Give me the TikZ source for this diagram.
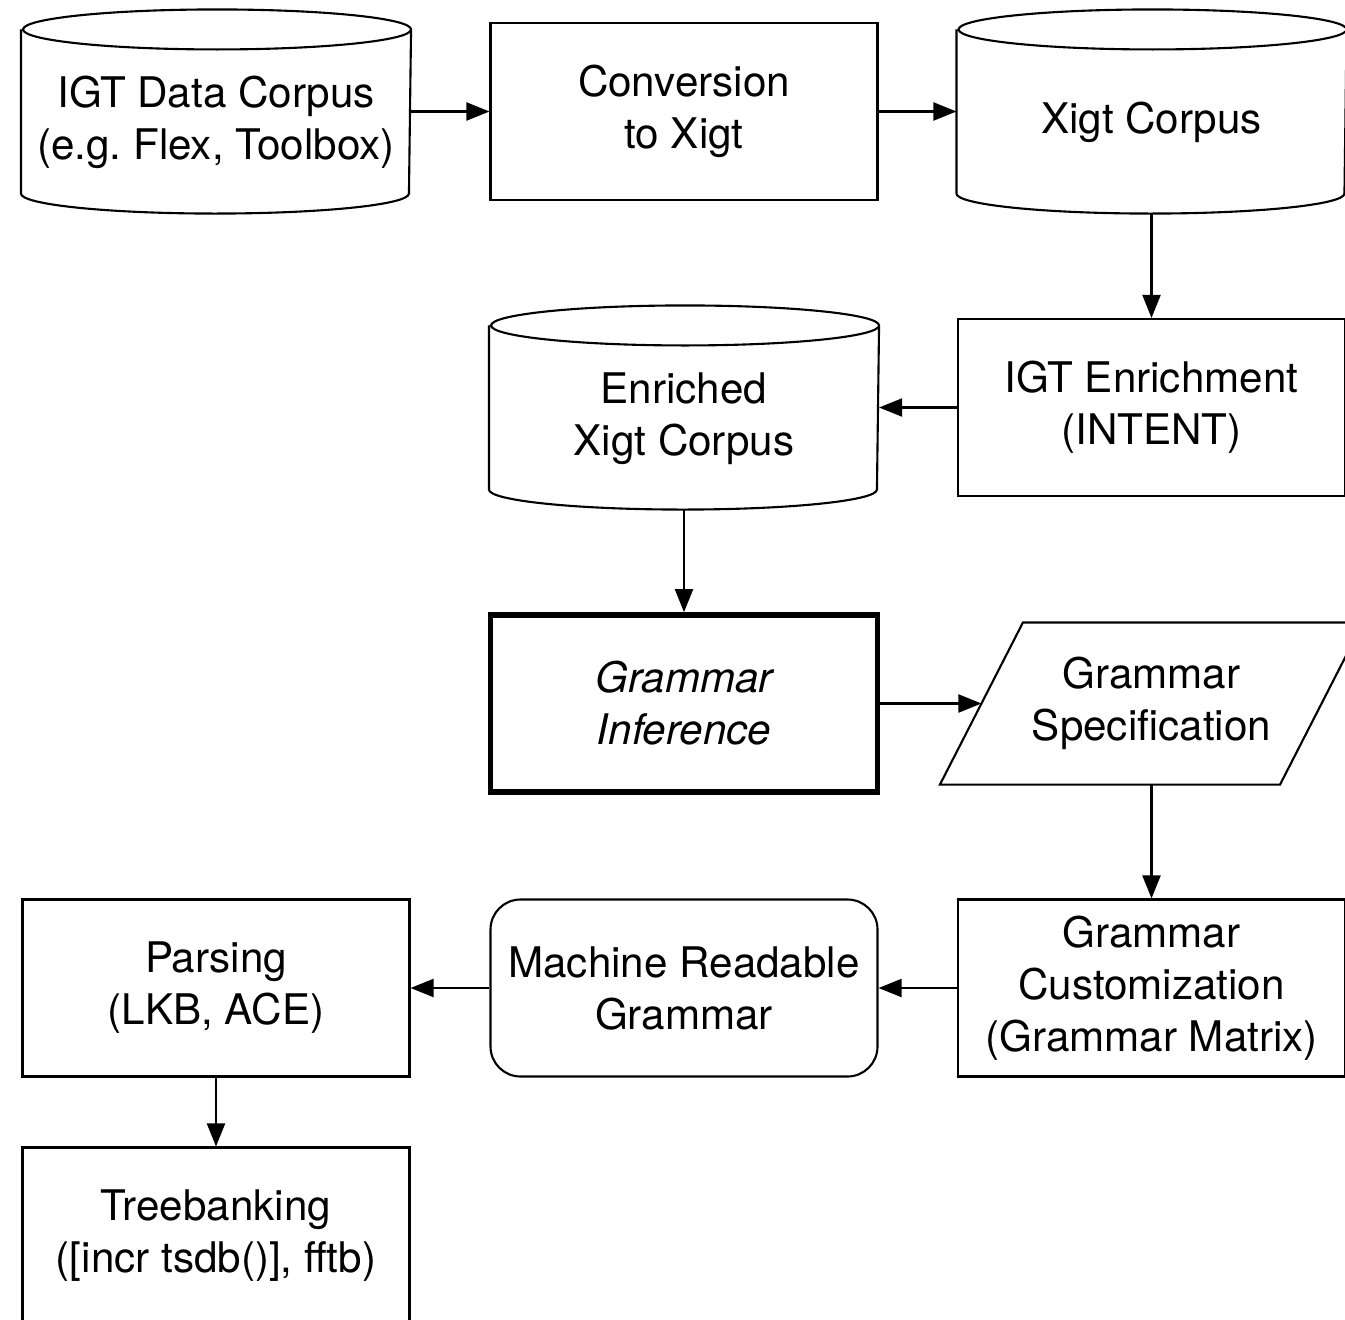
\documentclass[tikz,border=0pt]{standalone}
\usepackage{fontspec}
\setmainfont{TeX Gyre Heros}
\usetikzlibrary{arrows.meta,positioning}
\frenchspacing

% outline of a data store round a corpus node
\newcommand{\drawdb}[1]{%
  \draw ([yshift=-2mm]#1.north west) -- ([yshift=2mm]#1.south west)
    arc[start angle=180,end angle=360,x radius=1.94cm,y radius=2mm]
    -- ([yshift=-2mm]#1.north east)
    arc[start angle=0,end angle=180,x radius=1.94cm,y radius=2mm]
    arc[start angle=180,end angle=360,x radius=1.94cm,y radius=2mm];}
% text of a data store sits a bit low
\newcommand{\dbtext}[1]{\raisebox{-1.15mm}[\height][\depth]{\begin{tabular}{@{}c@{}}#1\end{tabular}}}

\begin{document}
\begin{tikzpicture}[node distance=2.96cm,line width=0.6pt,
    >={Triangle[length=2.3mm,width=1.8mm]},
    every node/.style={font=\fontsize{12}{14.8}\selectfont,align=center,inner xsep=1pt},
    corpus/.style={minimum width=3.88cm,minimum height=2.02cm},
    proc/.style={draw,minimum width=3.87cm,minimum height=1.77cm},
    specbox/.style={minimum width=4.21cm,minimum height=1.6cm}]
      \useasboundingbox (0,0) rectangle (13.45,-13.19);

      \node[corpus] (igt) at (2.16,-1.115) {\dbtext{IGT Data Corpus\\(e.g. Flex, Toolbox)}};
      \node[proc,right of=igt,xshift=1.72cm] (conv) {Conversion\\to Xigt};
      \node[corpus,right of=conv,xshift=1.715cm] (xigt) {\dbtext{Xigt Corpus}};
      \node[proc,below of=xigt] (enrich) {IGT Enrichment\\(INTENT)};
      \node[corpus,left of=enrich,xshift=-1.715cm] (enriched) {\dbtext{Enriched\\Xigt Corpus}};
      \node[proc,below of=enriched,line width=1.6pt,font=\fontsize{12}{14.8}\selectfont\itshape] (infer) {Grammar\\Inference};
      \node[specbox,right of=infer,xshift=1.715cm] (spec) {Grammar\\Specification};
      \node[proc,below of=spec,yshift=0.115cm] (custom) {Grammar\\Customization\\(Grammar Matrix)};
      \node[proc,rounded corners=3mm,left of=custom,xshift=-1.715cm] (mrg) {Machine Readable\\Grammar};
      \node[proc,left of=mrg,xshift=-1.72cm] (parse) {Parsing\\(LKB, ACE)};
      \node[proc,below of=parse,yshift=0.48cm] (tree) {Treebanking\\([incr tsdb()], fftb)};

      \drawdb{igt}
      \drawdb{xigt}
      \drawdb{enriched}
      \draw (spec.south west) -- ([xshift=-8.3mm]spec.south east) -- (spec.north east)
        -- ([xshift=8.3mm]spec.north west) -- cycle;

      \draw[->] (igt) -- (conv);
      \draw[->] (conv) -- (xigt);
      \draw[->] (xigt) -- (enrich);
      \draw[->] (enrich) -- (enriched);
      \draw[->] (enriched) -- (infer);
      \draw[->] (infer) -- ([xshift=4.15mm]spec.west);
      \draw[->] (spec) -- (custom);
      \draw[->] (custom) -- (mrg);
      \draw[->] (mrg) -- (parse);
      \draw[->] (parse) -- (tree);
\end{tikzpicture}
\end{document}
